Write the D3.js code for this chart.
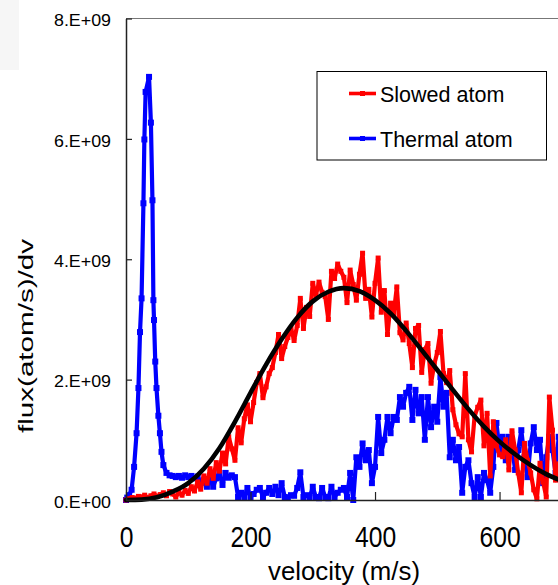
<!DOCTYPE html>
<html lang="en">
<head>
<meta charset="UTF-8">
<title>flux vs velocity</title>
<script src="https://cdn.jsdelivr.net/npm/d3@7"></script>
<style>
body { margin: 0; background: #fff; }
text { font-family: "Liberation Sans", Arial, sans-serif; fill: #000; }
</style>
</head>
<body>
<svg width="558" height="585"></svg>
<script>
// flux values are in units of 1e9 (atom/s per m/s)
var slowedV = d3.range(0, 705, 5);
var slowed = [
    0.00, 0.02, 0.04, 0.03, 0.06, 0.05, 0.08, 0.04, 0.07, 0.10,
    0.06, 0.09, 0.12, 0.07, 0.14, 0.10, 0.05, 0.13, 0.08, 0.16,
    0.11, 0.22, 0.15, 0.30, 0.18, 0.40, 0.28, 0.52, 0.36, 0.62,
    0.48, 0.78, 0.60, 1.05, 0.85, 0.66, 1.20, 0.95, 1.35, 1.58,
    1.30, 1.62, 1.95, 2.10, 1.70, 1.88, 2.10, 2.20, 2.45, 2.75,
    2.35, 2.55, 2.70, 2.85, 2.65, 2.90, 3.35, 2.85, 3.20, 3.05,
    3.60, 3.40, 3.62, 3.45, 3.38, 3.00, 3.80, 3.68, 3.92, 3.80,
    3.70, 3.28, 3.82, 3.58, 3.32, 3.75, 4.10, 3.35, 3.50, 3.04,
    3.60, 4.02, 3.12, 3.48, 2.75, 3.27, 3.10, 3.54, 2.78, 2.66,
    2.94, 2.60, 2.20, 2.85, 2.90, 2.12, 2.50, 2.60, 1.94, 2.25,
    2.45, 2.80, 2.10, 1.95, 2.15, 1.50, 1.25, 1.10, 1.05, 2.10,
    1.00, 0.80, 1.40, 1.54, 1.66, 0.90, 1.44, 0.40, 1.30, 0.90,
    0.75, 0.72, 1.00, 0.50, 1.15, 0.83, 0.45, 0.12, 0.94, 0.66,
    0.45, 0.17, 0.02, 0.61, 0.30, 0.05, 1.71, 1.16, 0.33, 0.60,
    0.40
];

// thermal beam: finer steps over the low-velocity peak, then every 5 m/s
var thermalV = [0, 2, 5, 9, 13, 17, 20, 22.5, 25, 28, 29.5, 31.5, 37, 40, 42.5, 44, 45, 47, 49, 52, 54.5, 57, 60, 65, 70]
    .concat(d3.range(75, 705, 5));
var thermal = [
    0.00, 0.04, 0.08, 0.17, 0.55, 1.11, 1.86, 2.79, 3.35, 4.93, 5.99, 6.78, 7.03,
    6.27, 4.98, 3.32, 2.99, 2.30, 1.86, 1.40, 1.11, 0.80, 0.58, 0.45, 0.41,
    0.40, 0.38, 0.40, 0.37, 0.41, 0.38, 0.40, 0.36, 0.39, 0.28,
    0.33, 0.22, 0.38, 0.22, 0.36, 0.45, 0.25, 0.45, 0.37, 0.41,
    0.38, 0.05, 0.12, 0.04, 0.20, 0.05, 0.10, 0.17, 0.20, 0.05,
    0.12, 0.20, 0.10, 0.22, 0.08, 0.28, 0.05, 0.04, 0.08, 0.07,
    0.20, 0.46, 0.05, 0.08, 0.04, 0.22, 0.05, 0.03, 0.20, 0.05,
    0.03, 0.22, 0.05, 0.12, 0.17, 0.20, 0.05, 0.45, 0.00, 0.71,
    0.55, 0.94, 0.66, 0.83, 0.28, 0.55, 1.38, 0.78, 1.00, 1.38,
    1.11, 1.38, 1.33, 1.71, 1.55, 1.78, 1.88, 1.33, 1.83, 1.44,
    1.71, 1.00, 1.71, 1.21, 1.55, 1.30, 2.04, 1.55, 1.78, 0.71,
    1.00, 0.66, 0.88, 0.12, 0.55, 0.66, 0.28, 0.05, 0.38, 0.05,
    0.45, 0.33, 0.12, 0.55, 1.28, 0.83, 1.05, 0.66, 1.05, 0.88,
    0.50, 0.83, 1.16, 0.71, 0.38, 0.94, 1.21, 0.83, 1.00, 0.28,
    0.71, 1.05, 0.83, 0.45, 1.05, 0.83
];

// fitted distribution, sampled every 25 m/s
var fitV = d3.range(0, 725, 25);
var fit = [
    0.00, 0.006, 0.045, 0.14, 0.28, 0.52, 0.86, 1.30, 1.78, 2.25,
    2.67, 3.03, 3.30, 3.46, 3.52, 3.47, 3.32, 3.10, 2.81, 2.49,
    2.16, 1.83, 1.51, 1.22, 0.97, 0.76, 0.58, 0.43, 0.32
];

var xTicks = [0, 200, 400, 600];
var xTickLabels = ["0", "200", "400", "600"];
var yTicks = [0, 2, 4, 6, 8];
var yTickLabels = ["0.E+00", "2.E+09", "4.E+09", "6.E+09", "8.E+09"];
var seriesNames = ["Slowed atom", "Thermal atom"];

var svg = d3.select("svg");
var x = d3.scaleLinear().domain([0, 700]).range([126, 561.8]);
var y = d3.scaleLinear().domain([0, 8]).range([500, 18.5]);

// faint grey patch in the corner of the scan
svg.append("rect").attr("x", 0).attr("y", 0).attr("width", 19).attr("height", 70).attr("fill", "#f6f6f6");

// top frame line
svg.append("line").attr("x1", 126).attr("x2", 558).attr("y1", 18.5).attr("y2", 18.5)
    .attr("stroke", "#777").attr("stroke-width", 1);

function pts(vs, fs) {
    return vs.map(function(v, i) { return [v, fs[i]]; });
}
var line = d3.line().x(function(d) { return x(d[0]); }).y(function(d) { return y(d[1]); });

function drawSeries(data, color, size) {
    var g = svg.append("g");
    g.append("path").datum(data).attr("d", line).attr("fill", "none")
        .attr("stroke", color).attr("stroke-width", 4.2).attr("stroke-linejoin", "round");
    g.selectAll("rect").data(data).enter().append("rect")
        .attr("x", function(d) { return x(d[0]) - size / 2; })
        .attr("y", function(d) { return y(d[1]) - size / 2; })
        .attr("width", size).attr("height", size).attr("fill", color);
}
drawSeries(pts(thermalV, thermal), "#0000ff", 6);
drawSeries(pts(slowedV, slowed), "#ff0000", 5);

svg.append("path").datum(pts(fitV, fit))
    .attr("d", d3.line().curve(d3.curveMonotoneX).x(function(d) { return x(d[0]); }).y(function(d) { return y(d[1]); }))
    .attr("fill", "none").attr("stroke", "#000").attr("stroke-width", 4.6).attr("stroke-linecap", "round");

// axes
var yAxis = svg.append("g").attr("transform", "translate(126,0)")
    .call(d3.axisLeft(y).tickValues(yTicks).tickSize(-6).tickSizeOuter(0).tickPadding(15)
        .tickFormat(function(d, i) { return yTickLabels[i]; }));
var xAxis = svg.append("g").attr("transform", "translate(0,500)")
    .call(d3.axisBottom(x).tickValues(xTicks).tickSize(-8).tickSizeOuter(0).tickPadding(26)
        .tickFormat(function(d, i) { return xTickLabels[i]; }));
[yAxis, xAxis].forEach(function(a) {
    a.select(".domain").attr("stroke", "#222").attr("stroke-width", 1.5);
    a.selectAll(".tick line").attr("stroke", "#222").attr("stroke-width", 1.2);
    a.selectAll("text").attr("font-family", null);
});
yAxis.selectAll("text").attr("font-size", 17).attr("dy", "0.42em")
    .attr("textLength", 57).attr("lengthAdjust", "spacingAndGlyphs");
xAxis.selectAll("text").attr("font-size", 30)
    .attr("textLength", function(d, i) { return xTickLabels[i].length * 13.7; })
    .attr("lengthAdjust", "spacingAndGlyphs");

svg.append("text").attr("x", 344).attr("y", 580).attr("text-anchor", "middle")
    .attr("font-size", 26).attr("textLength", 152).attr("lengthAdjust", "spacingAndGlyphs")
    .text("velocity (m/s)");
svg.append("text").attr("transform", "translate(33,336) rotate(-90)").attr("text-anchor", "middle")
    .attr("font-size", 20.5).attr("textLength", 194).attr("lengthAdjust", "spacingAndGlyphs")
    .text("flux(atom/s)/dv");

// legend
var legend = svg.append("g");
legend.append("rect").attr("x", 317).attr("y", 71.5).attr("width", 229.5).attr("height", 88.5)
    .attr("fill", "#fff").attr("stroke", "#000").attr("stroke-width", 1);
var legendColors = ["#ff0000", "#0000ff"];
var legendY = [93.5, 138.5];
seriesNames.forEach(function(name, i) {
    legend.append("line").attr("x1", 349).attr("x2", 376).attr("y1", legendY[i]).attr("y2", legendY[i])
        .attr("stroke", legendColors[i]).attr("stroke-width", 3.6);
    legend.append("rect").attr("x", 360).attr("y", legendY[i] - 2.5).attr("width", 5).attr("height", 5)
        .attr("fill", legendColors[i]);
    legend.append("text").attr("x", 380).attr("y", legendY[i] + 8).attr("font-size", 21.5).text(name);
});
</script>
</body>
</html>
